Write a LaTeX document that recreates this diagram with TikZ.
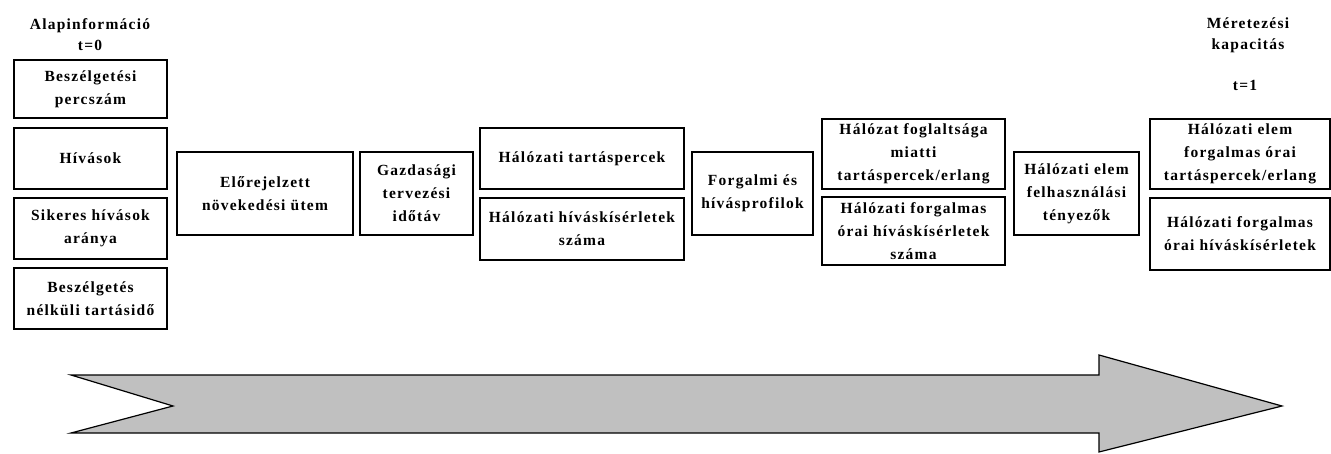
\documentclass[tikz,border=0pt]{standalone}
\usepackage{fontspec}
\setmainfont{Liberation Serif}[LetterSpace=8]
\usepackage{tikz}
\usetikzlibrary{positioning}
\definecolor{arrowgray}{RGB}{192,192,192}
\tikzset{
  box/.style={draw=black,line width=1.2pt,align=center,inner sep=0pt,
              font=\fontsize{15.5}{23}\selectfont\bfseries},
  title/.style={align=center,inner sep=0pt,font=\fontsize{15.5}{21}\selectfont\bfseries}
}
\begin{document}
\begin{tikzpicture}[x=1pt,y=-1pt]
\useasboundingbox (0,0) rectangle (1331,454);
%\node at (90,10) {\textbf{a)}};
\node[title] (alap) at (90,35) {Alapinformáció\\t=0};
\node[title] (meret) at (1248,35) {Méretezési\\kapacitás};
\node[title] (tegy) at (1245,85) {t=1};

\node[box,minimum width=153pt,minimum height=58pt] (percszam) at (90.5,89) {Beszélgetési\\percszám};
\node[box,minimum width=153pt,minimum height=61pt] (hivasok) at (90.5,158.5) {Hívások};
\node[box,minimum width=153pt,minimum height=61pt] (sikeres) at (90.5,228.5) {Sikeres hívások\\aránya};
\node[box,minimum width=153pt,minimum height=61pt] (tartasido) at (90.5,298.5) {Beszélgetés\\nélküli tartásidő};

\node[box,minimum width=176pt,minimum height=83pt] (novekedes) at (265,193.5) {Előrejelzett\\növekedési ütem};
\node[box,minimum width=113pt,minimum height=83pt] (idotav) at (416.5,193.5) {Gazdasági\\tervezési\\időtáv};

\node[box,minimum width=204pt,minimum height=61pt] (tartasperc) at (582,158.5) {Hálózati tartáspercek};
\node[box,minimum width=204pt,minimum height=62pt] (kiserlet) at (582,229) {Hálózati híváskísérletek\\száma};
\node[box,minimum width=121pt,minimum height=83pt] (profil) at (752.5,193.5) {Forgalmi és\\hívásprofilok};

\node[box,minimum width=183pt,minimum height=70pt] (foglaltsag) at (913.5,154) {Hálózat foglaltsága\\miatti\\tartáspercek/erlang};
\node[box,minimum width=183pt,minimum height=68pt] (fkiserlet) at (913.5,231) {Hálózati forgalmas\\órai híváskísérletek\\száma};
\node[box,minimum width=125pt,minimum height=83pt] (tenyezo) at (1076.5,193.5) {Hálózati elem\\felhasználási\\tényezők};

\node[box,minimum width=180pt,minimum height=70pt] (elemerlang) at (1240,154) {Hálózati elem\\forgalmas órai\\tartáspercek/erlang};
\node[box,minimum width=180pt,minimum height=72pt] (okiserlet) at (1240,234) {Hálózati forgalmas\\órai híváskísérletek};

\draw[line width=1.2pt,fill=arrowgray] (71,375) -- (1099,375) -- (1099,355) -- (1282,406)
  -- (1099,452) -- (1099,433) -- (71,433) -- (173,406) -- cycle;
\end{tikzpicture}
\end{document}
